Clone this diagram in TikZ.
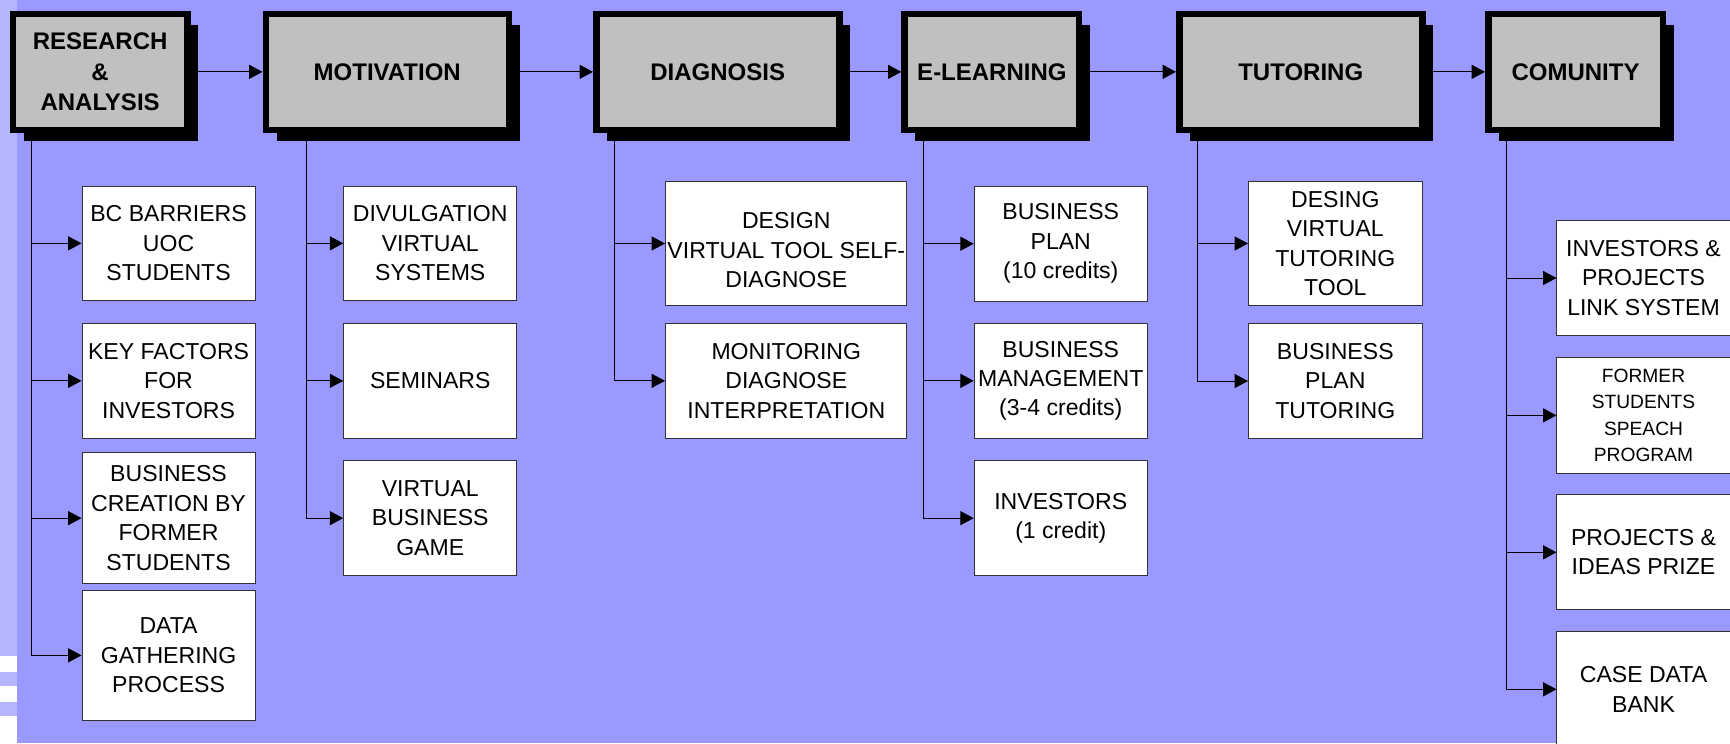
\documentclass[tikz,border=0pt]{standalone}
\usepackage{fontspec}
\setmainfont{Liberation Sans}
\usetikzlibrary{arrows.meta,calc,backgrounds}

\begin{document}
\begin{tikzpicture}[x=0.75pt,y=0.75pt,yscale=-1,xscale=1,
  phase/.style={draw=black,line width=4.875pt,fill={rgb, 255:red, 192; green, 192; blue, 192},
    minimum height=86.85pt,inner sep=0pt,align=center,font=\fontsize{18}{22.9}\selectfont\bfseries},
  task/.style={draw={rgb, 255:red, 51; green, 51; blue, 51},line width=0.75pt,fill=white,
    minimum width=129.8pt,minimum height=86pt,inner sep=0pt,align=center,font=\fontsize{17.3}{22.1}\selectfont},
  flow/.style={line width=0.75pt,-{Triangle[length=10pt,width=10.5pt]}}]
\useasboundingbox (0,0) rectangle (1730,743);

%Phases
\node [phase,minimum width=130.9pt] (research) at (100.1,71.85) {RESEARCH\\\&\\ANALYSIS};
\node [phase,minimum width=182.25pt] (motivation) at (387.25,71.85) {MOTIVATION};
\node [phase,minimum width=182.25pt] (diagnosis) at (717.75,71.85) {DIAGNOSIS};
\node [phase,minimum width=130.9pt] (elearning) at (991.9,71.85) {E-LEARNING};
\node [phase,minimum width=182.25pt] (tutoring) at (1300.75,71.85) {TUTORING};
\node [phase,minimum width=130.9pt] (comunity) at (1575.55,71.85) {COMUNITY};

%Straight Lines
\draw [flow] (research) -- (motivation);
\draw [flow] (motivation) -- (diagnosis);
\draw [flow] (diagnosis) -- (elearning);
\draw [flow] (elearning) -- (tutoring);
\draw [flow] (tutoring) -- (comunity);

% Research & analysis
\coordinate (rtA) at (31.4,133);
\node [task] (bcbar) at (168.55,243.35) {BC BARRIERS\\UOC\\STUDENTS};
\node [task] (keyfac) at (168.55,380.85) {KEY FACTORS\\FOR\\INVESTORS};
\node [task,minimum height=98.5pt] (bizcre) at (168.55,518.15) {BUSINESS\\CREATION BY\\FORMER\\STUDENTS};
\node [task,minimum height=97.3pt] (datag) at (168.55,655.35) {DATA\\GATHERING\\PROCESS};
\draw [flow] (rtA) |- (bcbar);
\draw [flow] (rtA) |- (keyfac);
\draw [flow] (rtA) |- (bizcre);
\draw [flow] (rtA) |- (datag);

% Motivation
\coordinate (rtB) at (306.1,133);
\node [task] (divul) at (430.25,243.35) {DIVULGATION\\VIRTUAL\\SYSTEMS};
\node [task] (semin) at (430.25,380.85) {SEMINARS};
\node [task] (vbgame) at (430.25,518.15) {VIRTUAL\\BUSINESS\\GAME};
\draw [flow] (rtB) |- (divul);
\draw [flow] (rtB) |- (semin);
\draw [flow] (rtB) |- (vbgame);

% Diagnosis
\coordinate (rtC) at (614.8,133);
\node [task,minimum width=181.1pt,minimum height=93pt] (design) at (786.25,243.5) {\mbox{}\\DESIGN\\VIRTUAL TOOL SELF-\\DIAGNOSE};
\node [task,minimum width=181.1pt] (monit) at (786.25,380.85) {MONITORING\\DIAGNOSE\\INTERPRETATION};
\draw [flow] (rtC) |- (design);
\draw [flow] (rtC) |- (monit);

% E-learning
\coordinate (rtD) at (923.2,133);
\node [task] (bplan) at (1060.75,243.7) {BUSINESS\\PLAN\\(10 credits)};
\node [task] (bmanag) at (1060.75,380.85) {BUSINESS\\MANAGEMENT\\(3-4 credits)};
\node [task] (invest) at (1060.75,518.15) {INVESTORS\\(1 credit)};
\draw [flow] (rtD) |- (bplan);
\draw [flow] (rtD) |- (bmanag);
\draw [flow] (rtD) |- (invest);

% Tutoring
\coordinate (rtE) at (1197.7,133);
\node [task,minimum width=130.2pt,minimum height=93pt] (desing) at (1335.3,243.5) {DESING\\VIRTUAL\\TUTORING\\TOOL};
\node [task,minimum width=130.2pt] (bptut) at (1335.3,381) {BUSINESS\\PLAN\\TUTORING};
\draw [flow] (rtE) |- (desing);
\draw [flow] (rtE) |- (bptut);

% Comunity
\coordinate (rtF) at (1506.4,133);
\node [task] (invproj) at (1643.5,278) {INVESTORS \&\\PROJECTS\\LINK SYSTEM};
\node [task,minimum height=87.2pt,font=\fontsize{14.4}{19.6}\selectfont] (former) at (1643.5,415.35) {FORMER\\STUDENTS\\SPEACH\\PROGRAM};
\node [task] (prize) at (1643.5,552.3) {PROJECTS \&\\IDEAS PRIZE};
\node [task] (casedata) at (1643.5,689.3) {CASE DATA\\BANK};
\draw [flow] (rtF) |- (invproj);
\draw [flow] (rtF) |- (former);
\draw [flow] (rtF) |- (prize);
\draw [flow] (rtF) |- (casedata);

%Background and shadows
\begin{scope}[on background layer]
\fill [white] (0,0) rectangle (1730,743);
\fill [fill={rgb, 255:red, 153; green, 153; blue, 255}] (17,0) rectangle (1730,743);
\fill [fill={rgb, 255:red, 180; green, 180; blue, 255}] (0,0) rectangle (17,656);
\fill [fill={rgb, 255:red, 180; green, 180; blue, 255}] (0,671.7) rectangle (17,686);
\fill [fill={rgb, 255:red, 180; green, 180; blue, 255}] (0,701.7) rectangle (17,716);
\foreach \p in {research,motivation,diagnosis,elearning,tutoring,comunity}
  \fill [black] ($(\p.north west)+(14,14)$) rectangle ($(\p.south east)+(7.7,8)$);
\end{scope}

\end{tikzpicture}
\end{document}
